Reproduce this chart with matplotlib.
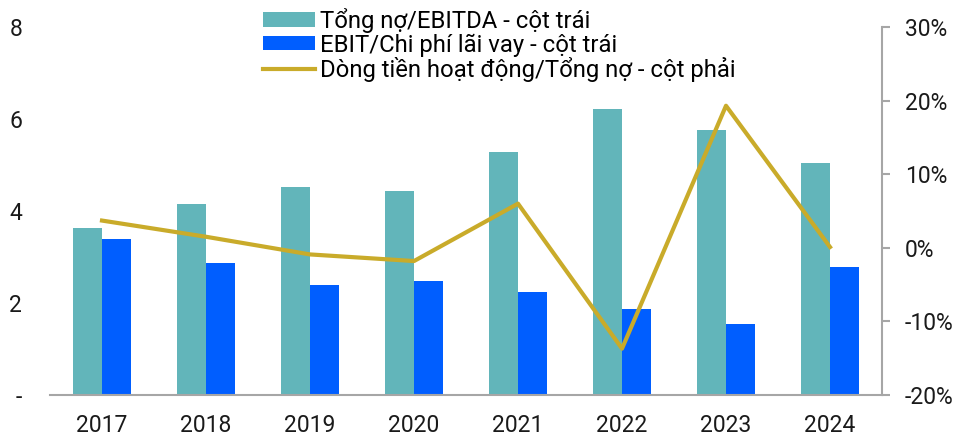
import matplotlib
matplotlib.use("Agg")
import matplotlib.pyplot as plt
import numpy as np
from matplotlib.ticker import FuncFormatter

plt.rcParams['font.family'] = ['Roboto', 'DejaVu Sans']

years = ['2017', '2018', '2019', '2020', '2021', '2022', '2023', '2024']
debt_ebitda = [3.64, 4.15, 4.53, 4.43, 5.28, 6.22, 5.75, 5.04]
ebit_interest = [3.40, 2.87, 2.40, 2.48, 2.25, 1.87, 1.54, 2.78]
cfo_debt = [3.7, 1.5, -0.9, -1.8, 6.0, -13.7, 19.3, 0.1]  # percent

label1 = 'Tổng nợ/EBITDA - cột trái'
label2 = 'EBIT/Chi phí lãi vay - cột trái'
label3 = 'Dòng tiền hoạt động/Tổng nợ - cột phải'

c_teal = '#62B5BA'
c_blue = '#005EFF'
c_gold = '#C9AB2A'
c_grey = '#A6A6A6'
c_text = '#1a1a1a'

fig = plt.figure(figsize=(9.58, 4.40), dpi=100)
ax = fig.add_axes([50/958, 1-395/440, 832/958, 368/440])
x = np.arange(len(years))
w = 0.28
b1 = ax.bar(x - w/2, debt_ebitda, w, color=c_teal, label=label1, zorder=2)
b2 = ax.bar(x + w/2, ebit_interest, w, color=c_blue, label=label2, zorder=2)
ax.set_xlim(-0.5, len(years) - 0.5)
ax.set_ylim(0, 8)
ax.set_yticks([0, 2, 4, 6, 8])
ax.yaxis.set_major_formatter(FuncFormatter(lambda v, p: '-' if v == 0 else f'{v:.0f}'))
ax.set_xticks(x)
ax.set_xticklabels(years)
ax.tick_params(axis='x', length=0, pad=14, labelsize=16.5, colors=c_text)
ax.tick_params(axis='y', length=0, pad=20, labelsize=16.5, colors=c_text)
for s in ['top', 'right', 'left']:
    ax.spines[s].set_visible(False)
ax.spines['bottom'].set_color(c_grey)
ax.spines['bottom'].set_linewidth(1.5)

ax2 = ax.twinx()
l3, = ax2.plot(x, cfo_debt, color=c_gold, lw=3, label=label3, zorder=3)
ax2.set_ylim(-20, 30)
ax2.set_yticks([-20, -10, 0, 10, 20, 30])
ax2.yaxis.set_major_formatter(FuncFormatter(lambda v, p: f'{v:.0f}%'))
ax2.tick_params(axis='y', length=6, width=1.5, pad=10.5, labelsize=16.5, colors=c_text)
ax2.tick_params(axis='y', color=c_grey)
for s in ['top', 'left', 'bottom']:
    ax2.spines[s].set_visible(False)
ax2.spines['right'].set_color(c_grey)
ax2.spines['right'].set_linewidth(1.5)

fig.legend(handles=[b1, b2, l3], labels=[label1, label2, label3],
           loc='upper left', bbox_to_anchor=(263/958, 1 - 8/440),
           frameon=False, fontsize=17.2, handlelength=2.18, handleheight=0.55,
           labelspacing=0.02, handletextpad=0.22, borderpad=0, borderaxespad=0)

fig.savefig('out.png', dpi=100)
